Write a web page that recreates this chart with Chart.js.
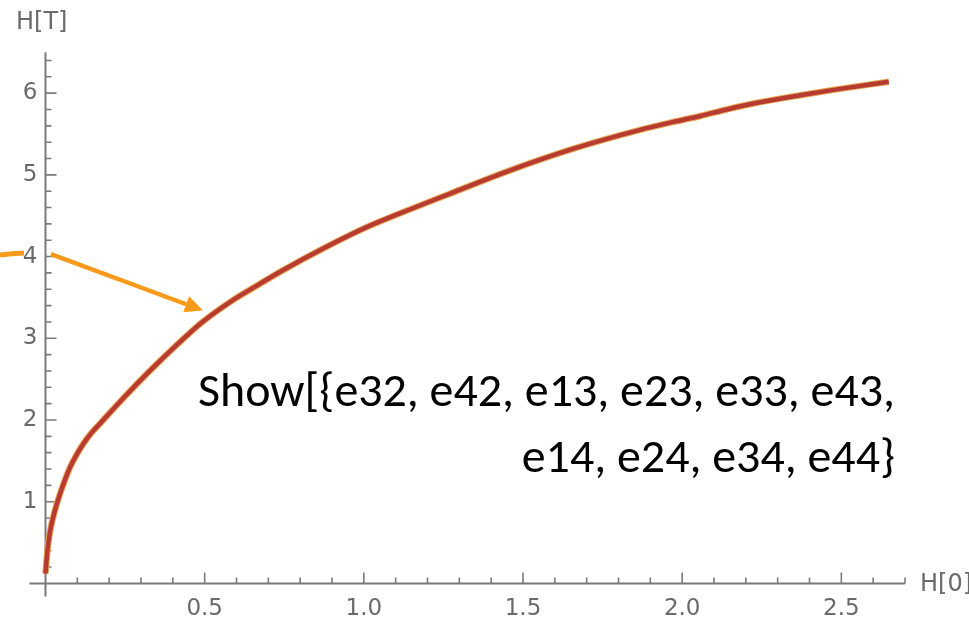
<!DOCTYPE html>
<html><head><meta charset="utf-8">
<script src="https://cdn.jsdelivr.net/npm/chart.js@4.4.1/dist/chart.umd.min.js"></script>
<style>html,body{margin:0;padding:0;background:#fff;}#wrap{width:969px;height:623px;position:relative;}</style>
</head><body><div id="wrap"><canvas id="c"></canvas></div>
<script>
// ---- data ----
const hZero  = [0, 0.006, 0.015, 0.028, 0.046, 0.077, 0.097, 0.119, 0.145, 0.171, 0.245, 0.33, 0.41, 0.49, 0.59, 0.66, 0.747, 0.878, 1.009, 1.14, 1.271, 1.449, 1.659, 1.868, 1.97, 2.057, 2.14, 2.22, 2.371, 2.475, 2.649];
const hTotal = [0.12, 0.40, 0.65, 0.87, 1.10, 1.42, 1.57, 1.71, 1.845, 1.955, 2.27, 2.61, 2.91, 3.19, 3.47, 3.635, 3.835, 4.11, 4.36, 4.57, 4.77, 5.04, 5.32, 5.55, 5.645, 5.72, 5.80, 5.87, 5.975, 6.04, 6.14];
const xTickLabels = ['0.5', '1.0', '1.5', '2.0', '2.5'];
const yTickLabels = ['1', '2', '3', '4', '5', '6'];
const seriesNames = ['e13', 'e44'];
const xAxisTitle = 'H[0]';
const yAxisTitle = 'H[T]';
const noteLines = ['Show[{e32, e42, e13, e23, e33, e43,', 'e14, e24, e34, e44}'];
const arrowFrom = [0.017, 4.03];
const arrowTo = [0.495, 3.34];

const points = hZero.map((v, i) => ({x: v, y: hTotal[i]}));
const TICK_FONT = {family: 'DejaVu Sans', size: 23};
const GRAY = '#6a6a6a';

const decor = {
  id: 'decor',
  beforeDatasetsDraw(chart) {
    const {ctx, scales: {x, y}} = chart;
    const x0 = x.getPixelForValue(0), y0 = y.getPixelForValue(0);
    ctx.save();
    ctx.strokeStyle = '#7a7a7a';
    ctx.lineWidth = 2;
    ctx.beginPath();
    ctx.moveTo(x0 - 16, y0); ctx.lineTo(x.getPixelForValue(x.max), y0);
    ctx.moveTo(x0, y.getPixelForValue(y.max)); ctx.lineTo(x0, y0 + 13);
    ctx.stroke();
    ctx.lineWidth = 1.6;
    ctx.beginPath();
    for (let i = 1; i <= Math.round(x.max * 10); i++) {
      const px = x.getPixelForValue(i / 10);
      const len = i % 5 === 0 ? 11 : 6;
      ctx.moveTo(px, y0); ctx.lineTo(px, y0 - len);
    }
    for (let i = 1; i <= Math.floor(y.max * 5 + 1e-6); i++) {
      const py = y.getPixelForValue(i / 5);
      const len = i % 5 === 0 ? 11 : 6;
      ctx.moveTo(x0, py); ctx.lineTo(x0 + len, py);
    }
    ctx.stroke();
    ctx.restore();
  },
  afterDraw(chart) {
    const {ctx, scales: {x, y}} = chart;
    ctx.save();
    // axis titles
    ctx.fillStyle = GRAY;
    ctx.font = '24px "DejaVu Sans"';
    ctx.textAlign = 'left';
    ctx.textBaseline = 'alphabetic';
    ctx.fillText(yAxisTitle, 16, 29);
    ctx.fillText(xAxisTitle, 920, 591);
    // arrow
    const ax = x.getPixelForValue(arrowFrom[0]), ay = y.getPixelForValue(arrowFrom[1]);
    const bx = x.getPixelForValue(arrowTo[0]), by = y.getPixelForValue(arrowTo[1]);
    ctx.strokeStyle = '#F89B1C';
    ctx.fillStyle = '#F89B1C';
    ctx.lineCap = 'butt';
    ctx.lineWidth = 5;
    ctx.beginPath();
    ctx.moveTo(0, ay + 1); ctx.quadraticCurveTo(12, ay - 0.5, 24, ay - 1);
    ctx.stroke();
    const ang = Math.atan2(by - ay, bx - ax);
    const headLen = 18, headW = 8.5;
    const hx = bx - headLen * Math.cos(ang), hy = by - headLen * Math.sin(ang);
    ctx.lineWidth = 4.5;
    ctx.beginPath();
    ctx.moveTo(ax, ay); ctx.lineTo(hx, hy);
    ctx.stroke();
    ctx.beginPath();
    ctx.moveTo(bx, by);
    ctx.lineTo(hx + headW * Math.sin(ang), hy - headW * Math.cos(ang));
    ctx.lineTo(hx - headW * Math.sin(ang), hy + headW * Math.cos(ang));
    ctx.closePath();
    ctx.fill();
    // note text, fitted to width
    const fam = 'Carlito, Lato, sans-serif';
    ctx.font = '40px ' + fam;
    const w = ctx.measureText(noteLines[0]).width;
    const size = 40 * 697 / w;
    ctx.font = size.toFixed(2) + 'px ' + fam;
    ctx.fillStyle = '#000';
    ctx.textAlign = 'right';
    ctx.fillText(noteLines[0], 895, 406);
    ctx.fillText(noteLines[1], 895, 472);
    ctx.restore();
  }
};

new Chart(document.getElementById('c'), {
  type: 'scatter',
  data: {
    datasets: [
      {label: seriesNames[0], data: points, showLine: true, borderColor: '#E6AA5C', borderWidth: 6.5,
       pointRadius: 0, cubicInterpolationMode: 'monotone', clip: 12, order: 2},
      {label: seriesNames[1], data: points, showLine: true, borderColor: '#B83B31', borderWidth: 4.5,
       pointRadius: 0, cubicInterpolationMode: 'monotone', clip: 12, order: 1}
    ]
  },
  options: {
    responsive: true,
    maintainAspectRatio: false,
    animation: false,
    layout: {padding: {top: 52.3, right: 64, left: 0, bottom: 0}},
    plugins: {legend: {display: false}, tooltip: {enabled: false}},
    scales: {
      x: {
        type: 'linear', min: 0, max: 2.7,
        grid: {display: false, drawTicks: false}, border: {display: false},
        afterFit(s) { s.height = 39.6; },
        ticks: {
          stepSize: 0.5, autoSkip: false, maxRotation: 0, padding: 12,
          color: GRAY, font: TICK_FONT,
          callback(v) { const l = xTickLabels.find(t => Math.abs(parseFloat(t) - v) < 1e-6); return l || ''; }
        }
      },
      y: {
        type: 'linear', min: 0, max: 6.5,
        grid: {display: false, drawTicks: false}, border: {display: false},
        afterFit(s) { s.width = 45.5; },
        ticks: {
          stepSize: 1, autoSkip: false, padding: 8,
          color: GRAY, font: TICK_FONT,
          callback(v) { const l = yTickLabels.find(t => Math.abs(parseFloat(t) - v) < 1e-6); return l || ''; }
        }
      }
    }
  },
  plugins: [decor]
});
</script></body></html>
